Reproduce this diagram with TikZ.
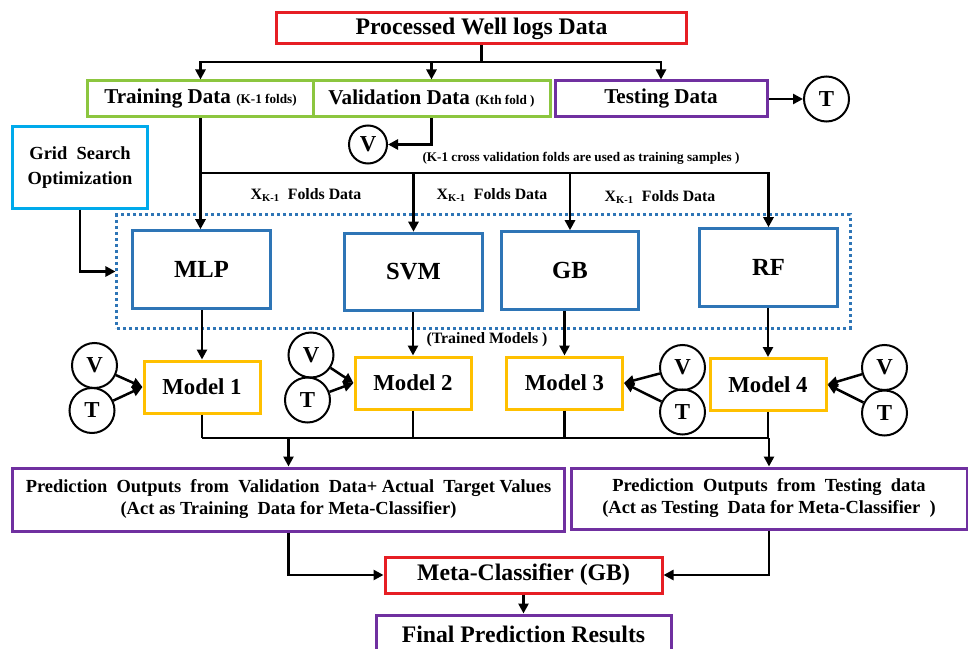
\documentclass[tikz,border=0pt]{standalone}
\usepackage{fontspec}
\setmainfont{Liberation Serif}
\usepackage{xcolor}
\usepackage{tikz}
\usetikzlibrary{positioning}
\usetikzlibrary{arrows.meta}

\definecolor{wellred}{RGB}{230,30,36}
\definecolor{foldgreen}{RGB}{140,198,63}
\definecolor{testpurple}{RGB}{112,48,160}
\definecolor{learnblue}{RGB}{46,117,182}
\definecolor{modelgold}{RGB}{255,192,0}
\definecolor{gridcyan}{RGB}{0,170,235}

\begin{document}
\begin{tikzpicture}[x=0.2mm, y=-0.2mm,
  box/.style={draw, line width=0.6mm, inner sep=0pt, align=center, font=\fontsize{12}{14}\selectfont\bfseries},
  learner/.style={box, draw=learnblue, minimum width=27.5mm, minimum height=15.5mm, font=\fontsize{14}{16}\selectfont\bfseries},
  modelbox/.style={box, draw=modelgold, minimum width=23.2mm, minimum height=10.4mm, font=\fontsize{13}{15}\selectfont\bfseries},
  letter/.style={circle, draw, line width=0.4mm, minimum size=9mm, inner sep=0pt, font=\fontsize{13}{15}\selectfont\bfseries},
  note/.style={font=\fontsize{9}{11}\selectfont\bfseries},
  link/.style={line width=0.5mm},
  arr/.style={link, -{Triangle[length=2mm,width=2mm]}}]

  \useasboundingbox (0,0) rectangle (968,649);

  % data split
  \node[box, draw=wellred, minimum width=81.8mm, minimum height=6.2mm, font=\fontsize{13.5}{15}\selectfont\bfseries] (pwd) at (481.5,28.5) {Processed Well logs Data};
  \node[box, draw=foldgreen, minimum width=45mm, minimum height=7.2mm] (train) at (200.5,99) {Training Data {\fontsize{7.5}{8}\selectfont (K-1 folds)}};
  \node[box, draw=foldgreen, minimum width=47.4mm, minimum height=7.2mm] (valid) at (431.5,99) {Validation Data {\fontsize{7.5}{8}\selectfont (Kth fold )}};
  \node[box, draw=testpurple, minimum width=42.4mm, minimum height=7.2mm] (test) at (661,99) {Testing Data};
  \node[letter] (tt) at (826.5,99) {T};
  \node[letter, minimum size=7.6mm] (vv) at (368,144.5) {V};
  \node[font=\fontsize{7.5}{9}\selectfont\bfseries] (cvnote) at (581,158) {(K-1 cross validation folds are used as training samples )};

  \node[box, draw=gridcyan, minimum width=26.8mm, minimum height=16.2mm, font=\fontsize{10.5}{14}\selectfont\bfseries] (grid) at (80,167.5) {Grid~ Search\\Optimization};

  \node[note] (xf1) at (306,195) {X\textsubscript{K-1}~ Folds Data};
  \node[note] (xf2) at (492,195) {X\textsubscript{K-1}~ Folds Data};
  \node[note] (xf3) at (660,197) {X\textsubscript{K-1}~ Folds Data};

  % base learners
  \node[draw=learnblue, line width=0.6mm, dash pattern=on 0.6mm off 0.6mm, minimum width=146.6mm, minimum height=22.6mm] (pool) at (483.5,271.5) {};
  \node[learner] (mlp) at (201.5,269.5) {MLP};
  \node[learner] (svm) at (413.5,272) {SVM};
  \node[learner] (gb) at (570,270.5) {GB};
  \node[learner] (rf) at (768.5,267.5) {RF};
  \node[note] (trained) at (487,340) {(Trained Models )};

  \node[modelbox] (m1) at (202,387) {Model 1};
  \node[modelbox] (m2) at (413,383) {Model 2};
  \node[modelbox] (m3) at (564.5,383) {Model 3};
  \node[modelbox] (m4) at (768,384.5) {Model 4};

  \node[letter] (v1) at (94.5,365.5) {V};
  \node[letter] (t1) at (92,410.5) {T};
  \node[letter] (v2) at (311,355) {V};
  \node[letter] (t2) at (307.5,400) {T};
  \node[letter] (v3) at (682.5,367.5) {V};
  \node[letter] (t3) at (682.5,412) {T};
  \node[letter] (v4) at (884.5,367.5) {V};
  \node[letter] (t4) at (884.5,413) {T};

  % meta level
  \node[box, draw=testpurple, minimum width=110.2mm, minimum height=12.6mm, font=\fontsize{10.5}{12.5}\selectfont\bfseries] (predval) at (288.5,499.5) {Prediction~ Outputs~ from~ Validation~ Data+ Actual~ Target Values\\(Act as Training~ Data for Meta-Classifier)};
  \node[box, draw=testpurple, minimum width=79.2mm, minimum height=12.2mm, font=\fontsize{10.5}{12.5}\selectfont\bfseries] (predtest) at (769,498.5) {Prediction~ Outputs~ from~ Testing~ data\\(Act as Testing~ Data for Meta-Classifier~ )};
  \node[box, draw=wellred, minimum width=55.4mm, minimum height=7.2mm, font=\fontsize{13.5}{15}\selectfont\bfseries] (meta) at (523.5,575) {Meta-Classifier (GB)};
  \node[box, draw=testpurple, minimum width=59mm, minimum height=7.6mm, font=\fontsize{13.5}{15}\selectfont\bfseries] (final) at (523.5,634) {Final Prediction Results};

  % connectors
  \draw[link] (pwd.south) -- (pwd.south |- 0,62);
  \foreach \d in {train,valid,test}
    \draw[arr] (pwd.south |- 0,62) -| (\d);
  \draw[arr] (test) -- (tt);
  \draw[arr] (valid.south) |- (vv);

  \draw[arr] (train.south) -- (train.south |- mlp.north);
  \foreach \l in {svm,gb,rf}
    \draw[arr] (train.south |- 0,173) -| (\l);
  \draw[arr] (grid.south) |- (pool.west);

  \foreach \l/\m in {mlp/m1,svm/m2,gb/m3,rf/m4}
    \draw[arr] (\m.north |- \l.south) -- (\m.north);
  \foreach \i in {1,2} {
    \draw[arr] (v\i) -- (m\i.west);
    \draw[arr] (t\i) -- (m\i.west);
  }
  \foreach \i in {3,4} {
    \draw[arr] (v\i) -- (m\i.east);
    \draw[arr] (t\i) -- (m\i.east);
  }

  \foreach \m in {m1,m2,m3,m4}
    \draw[link] (\m.south) -- (\m.south |- 0,438);
  \draw[link] (m1.south |- 0,438) -- (m4.south |- 0,438);
  \draw[arr] (predval.north |- 0,438) -- (predval);
  \draw[arr] (predtest.north |- 0,438) -- (predtest);

  \draw[arr] (predval.south) |- (meta);
  \draw[arr] (predtest.south) |- (meta);
  \draw[arr] (meta) -- (final);
\end{tikzpicture}
\end{document}
